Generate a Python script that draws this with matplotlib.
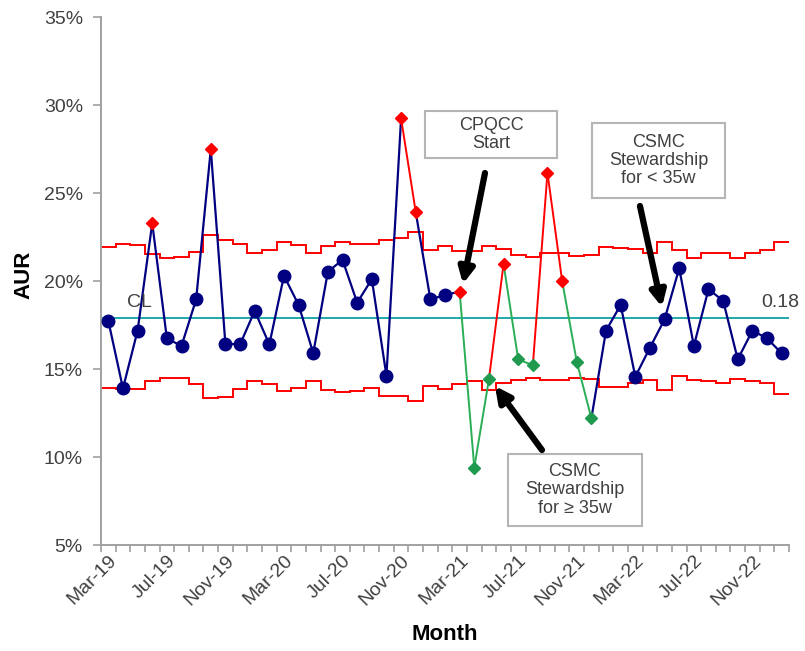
import numpy as np
import matplotlib
matplotlib.use("Agg")
import matplotlib.pyplot as plt
from matplotlib.patches import Rectangle

plt.rcParams['font.family'] = ['Liberation Sans', 'DejaVu Sans']

# ---------------- data ----------------
tick_labels = ["Mar-19", "Jul-19", "Nov-19", "Mar-20", "Jul-20", "Nov-20",
               "Mar-21", "Jul-21", "Nov-21", "Mar-22", "Jul-22", "Nov-22"]
label_every = 4

aur = [17.74, 13.9, 17.18, 23.28, 16.74, 16.31, 18.96, 27.48, 16.4, 16.4,
       18.3, 16.4, 20.3, 18.64, 15.9, 20.53, 21.2, 18.77, 20.1, 14.62,
       29.24, 23.92, 18.96, 19.2, 19.4, 9.4, 14.41, 20.97, 15.55, 15.21,
       26.15, 20.02, 15.42, 12.2, 17.18, 18.64, 14.56, 16.21, 17.82, 20.72,
       16.31, 19.53, 18.88, 15.55, 17.18, 16.74, 15.89]

# n = normal, r = special cause (red), g = CSMC stewardship >=35w (green)
status = ['n', 'n', 'n', 'r', 'n', 'n', 'n', 'r', 'n', 'n',
          'n', 'n', 'n', 'n', 'n', 'n', 'n', 'n', 'n', 'n',
          'r', 'r', 'n', 'n', 'r', 'g', 'g', 'r', 'g', 'g',
          'r', 'r', 'g', 'g', 'n', 'n', 'n', 'n', 'n', 'n',
          'n', 'n', 'n', 'n', 'n', 'n', 'n']

ucl = [21.91, 22.10, 22.06, 21.53, 21.31, 21.34, 21.65, 22.59, 22.35, 22.12,
       21.59, 21.78, 22.21, 22.03, 21.59, 22.0, 22.2, 22.12, 22.10, 22.35,
       22.44, 22.78, 21.78, 21.97, 21.72, 21.68, 21.97, 21.84, 21.49, 21.34,
       21.59, 21.59, 21.40, 21.45, 21.95, 21.85, 21.8, 21.6, 22.23, 21.78,
       21.29, 21.57, 21.57, 21.29, 21.57, 21.78, 22.23]

lcl = [13.90, 13.86, 13.86, 14.32, 14.51, 14.47, 14.13, 13.33, 13.43, 13.86,
       14.32, 14.13, 13.75, 13.94, 14.32, 13.81, 13.71, 13.75, 13.94, 13.48,
       13.48, 13.18, 14.05, 13.86, 14.12, 14.30, 13.81, 14.20, 14.37, 14.51,
       14.37, 14.37, 14.51, 14.42, 14.0, 14.0, 14.18, 14.37, 13.81, 14.6,
       14.4, 14.3, 14.2, 14.45, 14.3, 14.2, 13.56]

cl = 17.9
cl_label = "0.18"

# ---------------- style ----------------
NAVY = '#000080'
RED = '#ff0000'
GREEN = '#2aae55'
GREEN_M = '#1f9a4e'
CL_COL = '#1fa9a9'
TXT = '#404040'
AX_COL = '#a0a0a0'

y = np.array(aur) / 100.0
n = len(y)
x = np.arange(n)
edges = np.arange(n + 1) - 0.5

fig = plt.figure(figsize=(8.05, 6.51), dpi=100)
ax = fig.add_axes([101 / 805, 1 - 545 / 651, (789 - 101) / 805, (545 - 17) / 651])

# control limits
ax.stairs(np.array(ucl) / 100, edges, baseline=None, color=RED, lw=1.4, zorder=2)
ax.stairs(np.array(lcl) / 100, edges, baseline=None, color=RED, lw=1.4, zorder=2)
ax.axhline(cl / 100, color=CL_COL, lw=1.4, zorder=2)

# segments
def seg_color(s0, s1):
    if s1 == 'g':
        return GREEN
    if s1 == 'n':
        return NAVY
    return NAVY if s0 == 'n' else RED

for i in range(n - 1):
    c = seg_color(status[i], status[i + 1])
    ax.plot(x[i:i + 2], y[i:i + 2], color=c, lw=1.6 if c == NAVY else 1.4, zorder=3)

st = np.array(status)
ax.plot(x[st == 'n'], y[st == 'n'], 'o', color=NAVY, ms=9, zorder=4, ls='none')
ax.plot(x[st == 'r'], y[st == 'r'], 'D', color=RED, ms=6.4, zorder=4, ls='none')
ax.plot(x[st == 'g'], y[st == 'g'], 'D', color=GREEN_M, ms=6.4, zorder=4, ls='none')

# CL labels
ax.text(1.3, cl / 100 + 0.004, "CL", fontsize=14, color=TXT, va='bottom', ha='left')
ax.text(44.6, cl / 100 + 0.004, cl_label, fontsize=14, color=TXT, va='bottom', ha='left')

# axes
ax.set_xlim(edges[0], edges[-1])
ax.set_ylim(0.05, 0.35)
yt = np.arange(0.05, 0.351, 0.05)
ax.set_yticks(yt)
ax.set_yticklabels([f"{int(round(v * 100))}%" for v in yt])
ax.set_xticks(edges)
ax.set_xticklabels([])
ax.set_xticks(x[::label_every], tick_labels, minor=True)
ax.tick_params(axis='x', which='major', length=5, color=AX_COL, width=1.2, direction='out')
ax.tick_params(axis='x', which='minor', length=0, pad=5, labelsize=14, labelcolor=TXT)
for lab in ax.get_xticklabels(minor=True):
    lab.set_rotation(45)
    lab.set_ha('right')
    lab.set_rotation_mode('anchor')
ax.tick_params(axis='y', length=6, color=AX_COL, width=1.2, pad=7, labelsize=14, labelcolor=TXT)
for s in ['top', 'right']:
    ax.spines[s].set_visible(False)
for s in ['left', 'bottom']:
    ax.spines[s].set_color(AX_COL)
    ax.spines[s].set_linewidth(1.4)

fig.text(24 / 805, 1 - 275 / 651, "AUR", rotation=90, fontsize=16, fontweight='bold',
         ha='center', va='center', color='black')
fig.text(445 / 805, 1 - 635 / 651, "Month", fontsize=16, fontweight='bold',
         ha='center', va='center', color='black')

# annotation boxes
def pxx(p):
    return (p - 108.3) / 14.64

def pxy(p):
    return (35 - (p - 17) / 17.6) / 100

def box(x0, x1, y0, y1, text):
    ax.add_patch(Rectangle((pxx(x0), pxy(y1)), pxx(x1) - pxx(x0), pxy(y0) - pxy(y1),
                           facecolor='white', edgecolor='#b5b5b5', lw=1.5, zorder=6))
    ax.text((pxx(x0) + pxx(x1)) / 2, (pxy(y0) + pxy(y1)) / 2, text, ha='center', va='center',
            fontsize=13, color=TXT, linespacing=1.1, zorder=7)

def arrow(tx, ty, hx, hy):
    ax.annotate('', xy=(pxx(hx), pxy(hy)), xytext=(pxx(tx), pxy(ty)),
                arrowprops=dict(arrowstyle='-|>,head_length=0.9,head_width=0.45',
                                color='black', lw=4.5, shrinkA=0, shrinkB=0),
                zorder=6)

box(425, 557, 111, 158, "CPQCC\nStart")
arrow(485, 173, 463, 284)
box(592, 725, 123, 198, "CSMC\nStewardship\nfor < 35w")
arrow(640, 206, 662, 307)
box(508, 642, 454, 526, "CSMC\nStewardship\nfor \u2265 35w")
arrow(542, 450, 495, 386)

fig.savefig("out.png", dpi=100)
